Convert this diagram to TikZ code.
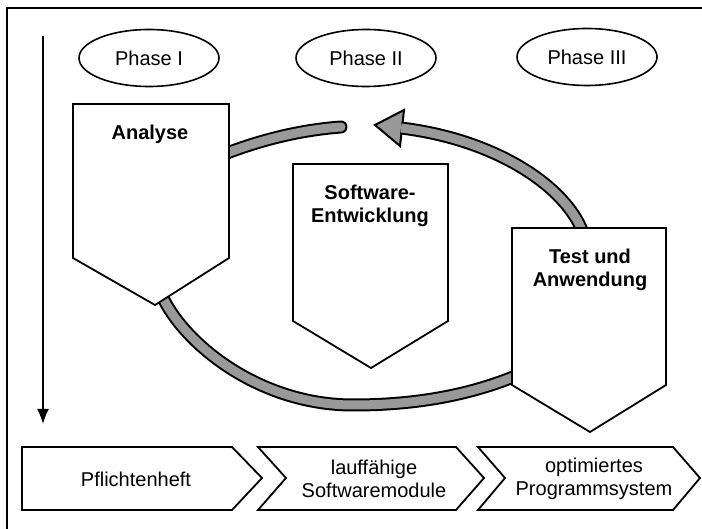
\documentclass[tikz,border=0pt]{standalone}
\usepackage{fontspec}
\setmainfont{Liberation Sans}
\usetikzlibrary{arrows.meta,shapes.geometric}

\begin{document}
\begin{tikzpicture}[x=1pt,y=-1pt,
    txt/.style={font=\fontsize{20}{23}\selectfont, align=center, inner sep=0pt},
    title/.style={txt, font=\fontsize{20}{23}\selectfont\bfseries},
    phase/.style={draw, ellipse, line width=1.6pt, minimum width=140pt, minimum height=57pt, inner sep=0pt, font=\fontsize{20}{23}\selectfont},
    box/.style={draw=black, fill=white, line width=1.8pt, line join=miter},
    band/.style={draw=black, line width=2pt, double=black!40, double distance=9pt}]
        \useasboundingbox (0,0) rectangle (702,529);

        \draw [black, line width=1.8pt] (702,8) to (7,8) to (7,529);
        \draw [black, line width=1.6pt, -{Latex[length=15pt,width=12pt]}] (43,36) to (43,424);

        \node [phase] (phaseI) at (149,58) {Phase I};
        \node [phase] (phaseII) at (366,58) {Phase II};
        \node [phase] (phaseIII) at (587,57) {Phase III};

        % ends of the bands
        \coordinate (anaR) at (222,155);
        \coordinate (anaTip) at (162,296);
        \coordinate (testL) at (518,375);
        \coordinate (testT) at (584,236);
        \coordinate (loopEnd) at (341,127);
        \coordinate (headBase) at (401,128);
        \coordinate (headTip) at (375,125);

        \draw [band, line cap=round] (anaR) .. controls (260,140) and (300,130) .. (loopEnd);
        \draw [band] (anaTip) .. controls (185,345) and (260,405) .. (353,405) .. controls (430,405) and (482,390) .. (testL);

        \draw [black, line width=2pt, fill=black!40, line join=miter] (headTip) to (404,110) to (400,146) to cycle;
        \draw [band] (testT) .. controls (570,190) and (500,140) .. (headBase);

        % phase boxes
        \draw [box] (73,104) to (229,104) to (229,258) to (155,305) to (73,258) to cycle;
        \draw [box] (293,164) to (448,164) to (448,321) to (371,368) to (293,321) to cycle;
        \draw [box] (512,228) to (666,228) to (666,385) to (590,432) to (512,385) to cycle;

        \node [title] (analyse) at (150,134) {Analyse};
        \node [title] (entw) at (370,206) {Software-\\Entwicklung};
        \node [title] (test) at (590,270) {Test und\\Anwendung};

        % results
        \draw [box] (22,447) to (232,447) to (262,478) to (232,510) to (22,510) to cycle;
        \draw [box] (258,447) to (456,447) to (484,478) to (456,510) to (258,510) to (286,478) to cycle;
        \draw [box] (478,447) to (673,447) to (700,478) to (673,510) to (478,510) to (505,478) to cycle;

        \node [txt] (pflicht) at (136,479) {Pflichtenheft};
        \node [txt] (module) at (374,479) {lauffähige\\Softwaremodule};
        \node [txt] (system) at (594,479) {optimiertes\\Programmsystem};
\end{tikzpicture}
\end{document}
